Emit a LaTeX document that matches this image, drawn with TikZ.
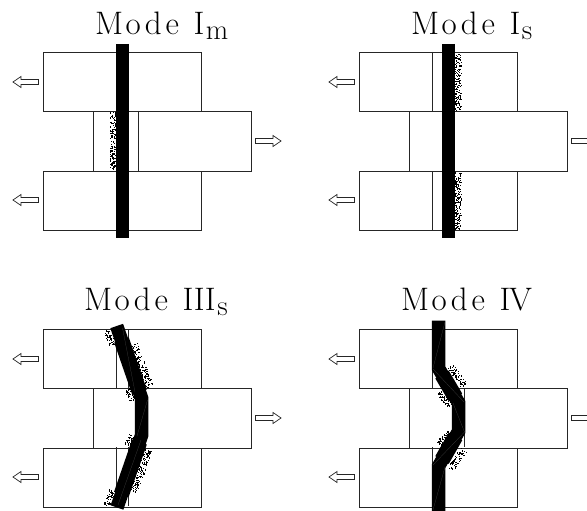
\documentclass[tikz,border=0pt]{standalone}
\usepackage{graphicx}
\usetikzlibrary{calc}
\tikzset{
  block/.style={draw=black!85,line width=0.75pt,fill=white},
  seam/.style={draw=black!85,line width=0.75pt},
  bar/.style={draw=black,line width=13.5pt,line join=miter,miter limit=10,line cap=butt},
  barfat/.style={draw=black,line width=15.5pt,line cap=butt},
  crack/.style={draw=black!70,line width=0.15pt},
  flow/.style={draw=black!85,line width=0.7pt,fill=white,line join=miter},
  title/.style={anchor=base west,inner sep=0pt,outer sep=0pt,font=\fontsize{25}{25}\selectfont}
}
% spaced title: Mode + gap + numeral + subscript
\newcommand{\ttl}[3]{\scalebox{1.32}[1.3]{M\kern2pt o\kern3pt d\kern3pt e\kern#1pt #2\kern1.2pt\raisebox{-4.2pt}{\fontsize{22}{22}\selectfont #3}}}
\newcommand{\blocks}[2]{% x offset, y offset
  \begin{scope}[shift={(#1,#2)}]
    \draw[block] (43,52) rectangle (201,111);
    \draw[block] (43,171) rectangle (201,230);
    \draw[block] (93,111) rectangle (251,171);
    \draw[flow] (13,82) -- (21,76.5) -- (21,79.5) -- (38.5,79.5) -- (38.5,84.5) -- (21,84.5) -- (21,87.5) -- cycle;
    \draw[flow] (13,200) -- (21,194.5) -- (21,197.5) -- (38.5,197.5) -- (38.5,202.5) -- (21,202.5) -- (21,205.5) -- cycle;
    \draw[flow] (281,141) -- (273,135.5) -- (273,138.5) -- (255.5,138.5) -- (255.5,143.5) -- (273,143.5) -- (273,146.5) -- cycle;
  \end{scope}}
% stipple strip from (x1,y1) to (x2,y2), width #5 centred on the axis, #6 dots
\newcommand{\speck}[6]{%
  \pgfmathsetmacro{\dxx}{#3-#1}\pgfmathsetmacro{\dyy}{#4-#2}
  \pgfmathsetmacro{\lenn}{sqrt(\dxx*\dxx+\dyy*\dyy)}
  \foreach \i in {1,...,#6}{
    \pgfmathsetmacro{\tt}{rnd}
    \pgfmathsetmacro{\ss}{(rnd-0.5)*#5}
    \pgfmathsetmacro{\px}{#1+\tt*\dxx-\ss*\dyy/\lenn}
    \pgfmathsetmacro{\py}{#2+\tt*\dyy+\ss*\dxx/\lenn}
    \fill[black] (\px,\py) rectangle ++(1.1,1.1);
  }}
\begin{document}
\begin{tikzpicture}[x=1pt,y=-1pt]
\useasboundingbox (0,0) rectangle (587,511);
\clip (0,0) rectangle (587,511);
\fill[white] (0,0) rectangle (587,511);
\pgfmathsetseed{4711}

% ---------- Mode I_m
\blocks{0}{0}
\draw[seam] (138.3,111) -- (138.3,171);
\speck{112.5}{112}{112.5}{169}{6}{150}
\draw[bar] (122.5,44) -- (122.5,238);
\node[title] (tA) at (95,34.5) {\ttl{11}{I}{m}};

% ---------- Mode I_s
\blocks{316}{0}
\draw[seam] (432.7,52) -- (432.7,111);
\draw[seam] (432.7,171) -- (432.7,230);
\speck{457.5}{53}{457.5}{110}{6.5}{160}
\speck{457.5}{172}{457.5}{229}{6.5}{160}
\draw[bar] (448.5,44) -- (448.5,238);
\node[title] (tB) at (411,34.5) {\ttl{11}{I}{s}};

% ---------- Mode III_s
\blocks{0}{277}
\draw[seam] (116.5,329) -- (116.5,388);
\draw[seam] (116.5,447) -- (116.5,506);
\draw[seam] (128.5,329) -- (128.5,388);
\draw[seam] (128.5,447) -- (128.5,506);
\speck{106.5}{330}{112.5}{346}{6.5}{50}
\speck{133.5}{344}{149.5}{387}{7.5}{130}
\speck{127.5}{389}{132.5}{400}{6.5}{40}
\speck{127.5}{445}{132.5}{435}{6.5}{40}
\speck{148.5}{449}{133.5}{491}{7.5}{130}
\speck{106.5}{505}{112.5}{490}{6.5}{50}
\draw[bar] (116.7,326) -- (141.7,398.5) -- (141.7,435) -- (117,507.5);
\draw[barfat] (121.5,340) -- (139.5,392);
\draw[barfat] (139.5,442) -- (121.5,494);
\draw[crack] (122.5,328) -- (135,392);
\draw[crack] (147.5,400) -- (137,436);
\draw[crack] (141,440) -- (118,505);
\node[title] (tC) at (84,310.5) {\ttl{11}{I\kern0.3pt I\kern0.3pt I}{s}};

% ---------- Mode IV
\blocks{316}{277}
\draw[seam] (432.7,329) -- (432.7,388);
\draw[seam] (432.7,447) -- (432.7,506);
\draw[seam] (464.3,388) -- (464.3,447);
\speck{450.5}{365.5}{463.5}{385.5}{7}{70}
\speck{438.5}{391.5}{450.5}{405.5}{7}{60}
\speck{438.5}{444.5}{450.5}{431.5}{7}{60}
\speck{463.5}{449.5}{450.5}{468.5}{7}{70}
\draw[bar] (438.7,320.7) -- (438.7,368.5) -- (458.7,403) -- (458.7,431) -- (438.7,466) -- (438.7,511);
\draw[barfat] (442,374.5) -- (455.5,397.5);
\draw[barfat] (455.5,436.5) -- (442,460);
\draw[crack] (445,322) -- (433,368);
\draw[crack] (433,369) -- (464,402);
\draw[crack] (453,403) -- (464.5,432);
\draw[crack] (464.5,432) -- (433,465);
\draw[crack] (445,467) -- (433,510);
\node[title] (tD) at (401,310.5) {\ttl{11}{I\kern-1pt V}{}};
\end{tikzpicture}
\end{document}
